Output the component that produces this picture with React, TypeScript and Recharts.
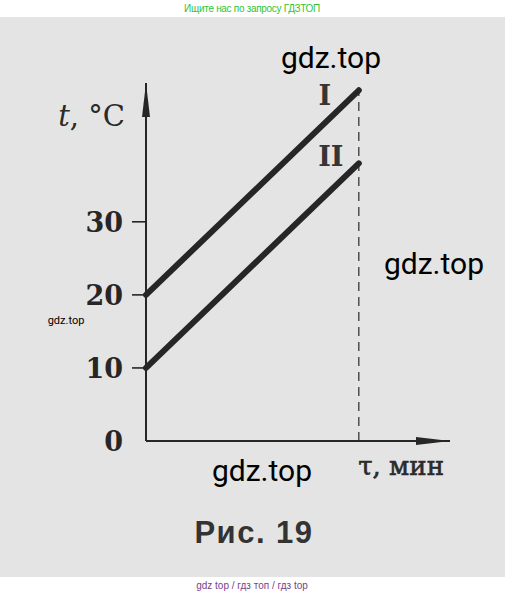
import React from 'react';
import { LineChart, Line, XAxis, YAxis, ReferenceLine, ReferenceDot, Label } from 'recharts';

// τ, min (no values on the axis, only the end point matters)
const TAU = [0, 7];
const LINE_I = [20, 48];
const LINE_II = [10, 38];
const Y_TICKS = [0, 10, 20, 30];
const SERIES_LABELS = ['I', 'II'];

const data = TAU.map((tau, i) => ({ tau, I: LINE_I[i], II: LINE_II[i] }));

const INK = '#262626';
const SERIF = '"DejaVu Serif", "Liberation Serif", serif';

const YTick = (props: any) => {
  const { x, y, payload } = props;
  return (
    <g>
      {payload.value !== 0 && (
        <line x1={x + 10} x2={x + 24} y1={y} y2={y} stroke={INK} strokeWidth={1.6} />
      )}
      <text x={x + 1} y={y} dy={10} textAnchor="end" fontFamily={SERIF} fontWeight="bold" fontSize={27} fill={INK}>
        {payload.value}
      </text>
    </g>
  );
};

const seriesLabel = (name: string, dx: number, dy: number) => (props: any) => {
  const { x, y, index } = props;
  if (index !== TAU.length - 1) return null;
  return (
    <text x={x + dx} y={y + dy} textAnchor="middle" fontFamily={SERIF} fontWeight="bold" fontSize={27} fill="#353535">
      {name}
    </text>
  );
};

const ArrowUp = (props: any) => {
  const { cx, cy } = props;
  return <polygon points={`${cx},${cy} ${cx - 4},${cy + 34} ${cx + 4},${cy + 34}`} fill={INK} />;
};

const ArrowRight = (props: any) => {
  const { cx, cy } = props;
  return <polygon points={`${cx},${cy} ${cx - 34},${cy - 4} ${cx - 34},${cy + 4}`} fill={INK} />;
};

const wm: React.CSSProperties = {
  position: 'absolute',
  fontFamily: 'Roboto, "Noto Sans", sans-serif',
  color: '#000',
  whiteSpace: 'nowrap',
  transform: 'translate(-50%, -50%)',
};

export default function App() {
  return (
    <div style={{ position: 'absolute', left: 0, top: 0, width: 505, height: 595, background: '#fff', overflow: 'hidden' }}>
      <div style={{ position: 'absolute', left: 0, top: 17, width: 505, height: 560, background: '#e4e4e4' }} />
      <div style={{ ...wm, left: 252, top: 8, fontSize: 10, color: '#33c433', fontFamily: '"Liberation Sans", sans-serif', letterSpacing: -0.3 }}>
        Ищите нас по запросу ГДЗТОП
      </div>
      <div style={{ position: 'absolute', left: 0, top: 0 }}>
        <LineChart width={505} height={595} data={data} margin={{ top: 83, right: 55, bottom: 124, left: 0 }}>
          <XAxis
            type="number"
            dataKey="tau"
            domain={[0, 10]}
            tick={false}
            tickLine={false}
            height={30}
            axisLine={{ stroke: INK, strokeWidth: 2 }}
          >
            <Label
              content={(p: any) => (
                <text x={p.viewBox.x + p.viewBox.width - 6} y={p.viewBox.y + 34} textAnchor="end" fontFamily={SERIF} fontSize={26} fill="#2a2a2a" stroke="#2a2a2a" strokeWidth={0.6}>
                  τ, мин
                </text>
              )}
            />
          </XAxis>
          <YAxis
            type="number"
            domain={[0, 49]}
            ticks={Y_TICKS}
            width={146}
            tickSize={14}
            tickMargin={10}
            tickLine={false}
            tick={<YTick />}
            axisLine={{ stroke: INK, strokeWidth: 2 }}
          >
            <Label
              content={(p: any) => (
                <text x={125} y={p.viewBox.y + 43} textAnchor="end" fontFamily={SERIF} fontSize={29} fill="#2a2a2a">
                  <tspan fontStyle="italic">t</tspan>, °C
                </text>
              )}
            />
          </YAxis>
          <ReferenceLine
            segment={[{ x: TAU[1], y: 0 }, { x: TAU[1], y: LINE_I[1] }]}
            stroke="#444"
            strokeWidth={1.4}
            strokeDasharray="9 6"
          />
          <ReferenceDot x={0} y={49} ifOverflow="visible" shape={<ArrowUp />} />
          <ReferenceDot x={10} y={0} ifOverflow="visible" shape={<ArrowRight />} />
          <Line
            type="linear"
            dataKey="I"
            stroke={INK}
            strokeWidth={6}
            strokeLinecap="round"
            dot={false}
            isAnimationActive={false}
            label={seriesLabel(SERIES_LABELS[0], -34, 15)}
          />
          <Line
            type="linear"
            dataKey="II"
            stroke={INK}
            strokeWidth={6}
            strokeLinecap="round"
            dot={false}
            isAnimationActive={false}
            label={seriesLabel(SERIES_LABELS[1], -28, 3)}
          />
        </LineChart>
      </div>
      <div style={{ ...wm, left: 254, top: 533, fontSize: 31, fontWeight: 'bold', color: '#333', fontFamily: '"Liberation Sans", Arial, sans-serif', letterSpacing: 1.5 }}>
        Рис. 19
      </div>
      <div style={{ ...wm, left: 331, top: 57, fontSize: 30 }}>gdz.top</div>
      <div style={{ ...wm, left: 434, top: 263, fontSize: 30 }}>gdz.top</div>
      <div style={{ ...wm, left: 66, top: 320, fontSize: 11 }}>gdz.top</div>
      <div style={{ ...wm, left: 262, top: 470, fontSize: 30 }}>gdz.top</div>
      <div style={{ ...wm, left: 252, top: 585, fontSize: 10, color: '#7a3f8c', fontFamily: '"Liberation Sans", sans-serif' }}>
        gdz top / гдз топ / гдз top
      </div>
    </div>
  );
}
